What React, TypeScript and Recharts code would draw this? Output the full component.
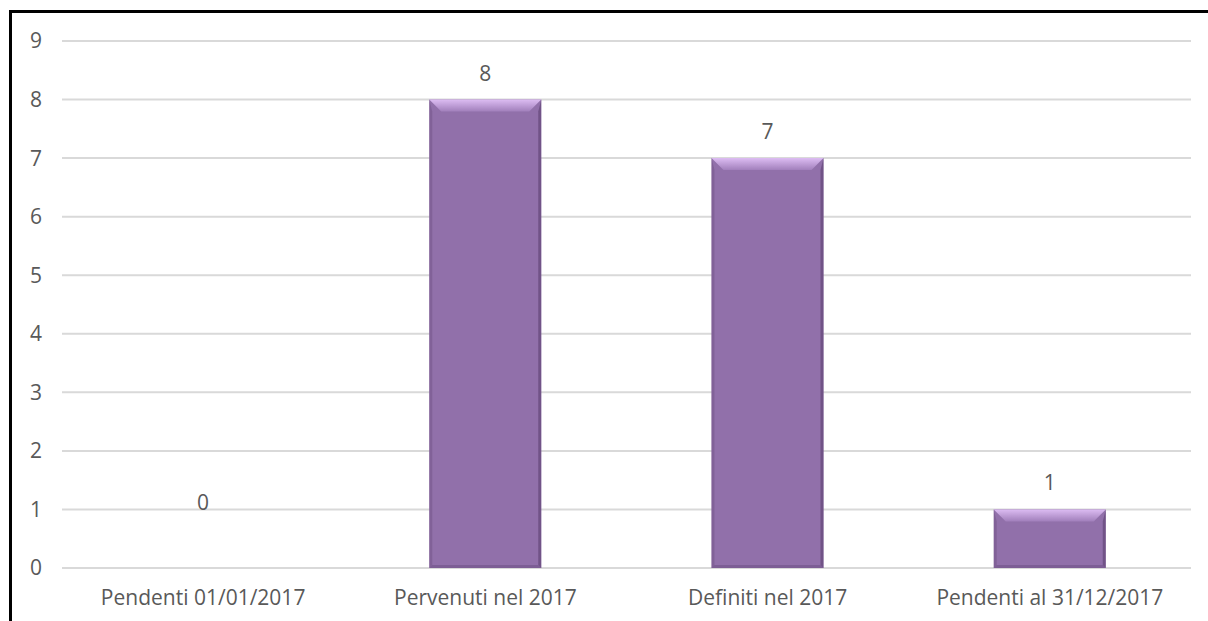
import React from "react";
import { BarChart, Bar, XAxis, YAxis, CartesianGrid, LabelList } from "recharts";

const categories = ["Pendenti 01/01/2017", "Pervenuti nel 2017", "Definiti nel 2017", "Pendenti al 31/12/2017"];
const values = [0, 8, 7, 1];
const yTicks = [0, 1, 2, 3, 4, 5, 6, 7, 8, 9];

const data = categories.map((name, i) => ({ name, value: values[i] }));

const TEXT = "#595959";
const FONT = "'Open Sans', sans-serif";
const FS = 21;

// bar with a soft bevel on top, like the Office "angle" effect
function BevelBar(props: any) {
  const { x, y, width: w, height: h } = props;
  if (!h || h <= 0) return null;
  const b = Math.min(12, h / 2);
  const s = 3;
  return (
    <g>
      <rect x={x} y={y} width={w} height={h} fill="#9170AA" />
      <polygon points={`${x},${y} ${x + w},${y} ${x + w - b},${y + b} ${x + b},${y + b}`} fill="url(#bevelTop)" />
      <polygon points={`${x},${y} ${x + s},${y + b} ${x + s},${y + h - s} ${x},${y + h}`} fill="#6f5083" opacity={0.45} />
      <polygon points={`${x + w},${y} ${x + w - s},${y + b} ${x + w - s},${y + h - s} ${x + w},${y + h}`} fill="#5c4070" opacity={0.6} />
      <polygon points={`${x},${y + h} ${x + s},${y + h - s} ${x + w - s},${y + h - s} ${x + w},${y + h}`} fill="#6a4c80" opacity={0.5} />
    </g>
  );
}

function ValueLabel(props: any) {
  const { x, y, width, value } = props;
  const lift = value === 0 ? 66 : 27;
  return (
    <text x={x + width / 2} y={y - lift} textAnchor="middle" dominantBaseline="central" fill={TEXT} fontSize={FS} fontFamily={FONT}>
      {value}
    </text>
  );
}

export default function App() {
  return (
    <div
      style={{
        position: "fixed",
        left: 9,
        top: 10,
        width: 1196,
        height: 608,
        borderLeft: "3px solid #000",
        borderTop: "3px solid #000",
        background: "#fff",
      }}
    >
      <BarChart width={1196} height={608} data={data} margin={{ top: 28, right: 17, bottom: 0, left: 0 }}>
        <defs>
          <linearGradient id="bevelTop" x1="0" y1="0" x2="0" y2="1">
            <stop offset="0%" stopColor="#dcbcf2" />
            <stop offset="100%" stopColor="#a17fbb" />
          </linearGradient>
        </defs>
        <CartesianGrid vertical={false} stroke="#d9d9d9" strokeWidth={2} />
        <XAxis
          dataKey="name"
          axisLine={false}
          tickLine={false}
          tickSize={0}
          tickMargin={22}
          height={53}
          interval={0}
          tick={{ fill: TEXT, fontSize: FS, fontFamily: FONT }}
        />
        <YAxis
          domain={[0, 9]}
          ticks={yTicks}
          interval={0}
          axisLine={false}
          tickLine={false}
          tickSize={0}
          tickMargin={20}
          width={50}
          tick={{ fill: TEXT, fontSize: FS, fontFamily: FONT }}
        />
        <Bar dataKey="value" barSize={112} shape={<BevelBar />} isAnimationActive={false}>
          <LabelList dataKey="value" content={<ValueLabel />} />
        </Bar>
      </BarChart>
    </div>
  );
}
